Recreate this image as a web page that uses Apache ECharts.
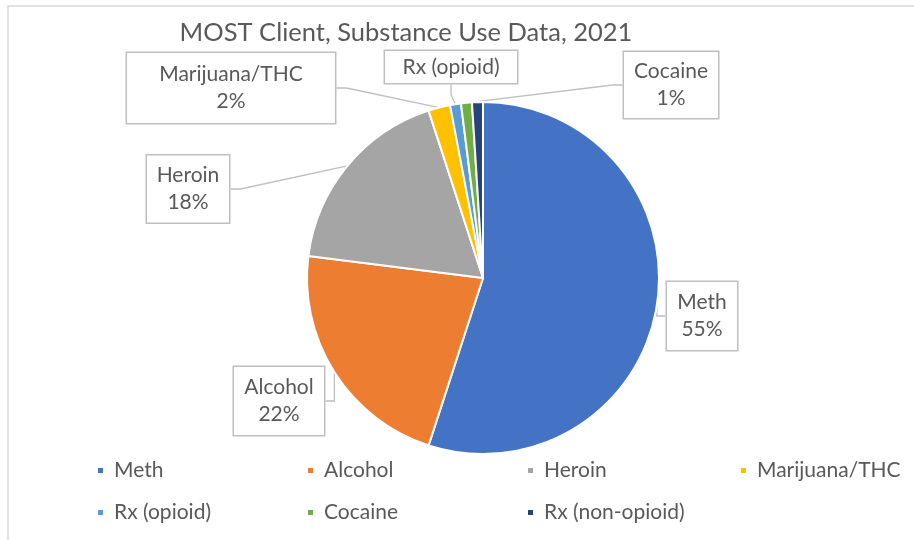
<!DOCTYPE html>
<html>
<head>
<meta charset="utf-8">
<script src="https://cdn.jsdelivr.net/npm/echarts@6/dist/echarts.min.js"></script>
<style>
  html, body { margin: 0; padding: 0; background: #fff; }
  #chart { width: 914px; height: 540px; }
</style>
</head>
<body>
<div id="chart"></div>
<script>
// Substance categories and their share of MOST clients (percent)
const categories = ['Meth', 'Alcohol', 'Heroin', 'Marijuana/THC', 'Rx (opioid)', 'Cocaine', 'Rx (non-opioid)'];
const shares = [55, 22, 18, 2, 1, 1, 1];
const colors = ['#4472C4', '#ED7D31', '#A5A5A5', '#FFC000', '#5B9BD5', '#70AD47', '#264478'];
const titleText = 'MOST Client, Substance Use Data, 2021';

// Callout box placement (centre x, centre y, box width, box height) per category
const callouts = {
  'Meth':          { cx: 702, cy: 316, w: 70,  h: 68 },
  'Alcohol':       { cx: 279, cy: 401, w: 90,  h: 68 },
  'Heroin':        { cx: 188, cy: 189, w: 82,  h: 67 },
  'Marijuana/THC': { cx: 231, cy: 88,  w: 208, h: 70 },
  'Rx (opioid)':   { cx: 451, cy: 67,  w: 132, h: 32 },
  'Cocaine':       { cx: 671, cy: 85,  w: 94,  h: 66 }
};

// Legend grid: four columns, two rows
const legendCols = [91, 301, 521, 734];
const legendRows = [455, 497];

const FONT = 'Lato, "Open Sans", sans-serif';
const TEXT = '#595959';

const pieData = categories.map((name, i) => {
  const c = callouts[name];
  const item = { name: name, value: shares[i], itemStyle: { color: colors[i] } };
  if (!c) {
    item.label = { show: false };
    item.labelLine = { show: false };
  } else {
    const lines = name === 'Rx (opioid)' ? 1 : 2;
    const padV = Math.max(0, (c.h - lines * 27) / 2);
    item.label = { width: c.w, padding: [padV, 0, padV, 0] };
  }
  return item;
});

const legends = categories.map((name, i) => ({
  data: [name],
  left: legendCols[i % 4],
  top: legendRows[Math.floor(i / 4)],
  icon: 'rect', itemWidth: 7, itemHeight: 7,
  textStyle: { fontFamily: FONT, fontSize: 21, color: TEXT, padding: [0, 0, 0, 5] }
}));

const chart = echarts.init(document.getElementById('chart'), null, { renderer: 'canvas' });
chart.setOption({
  backgroundColor: '#fff',
  animation: false,
  title: {
    text: titleText,
    left: 401,
    top: 15,
    textAlign: 'center',
    textStyle: { fontFamily: FONT, fontSize: 25.5, fontWeight: 'normal', color: TEXT }
  },
  graphic: [{
    type: 'rect',
    shape: { x: 8, y: 6, width: 940, height: 560 },
    style: { fill: 'none', stroke: '#d9d9d9', lineWidth: 1.5 },
    silent: true
  }],
  legend: legends,
  series: [{
    type: 'pie',
    center: [483, 278],
    radius: [0, 176],
    startAngle: 90,
    clockwise: true,
    avoidLabelOverlap: false,
    itemStyle: { borderColor: '#fff', borderWidth: 2 },
    label: {
      show: true,
      position: 'outside',
      fontFamily: FONT,
      fontSize: 21,
      lineHeight: 27,
      color: TEXT,
      align: 'center',
      backgroundColor: '#fff',
      borderColor: '#bfbfbf',
      borderWidth: 1.5,
      formatter: p => p.name === 'Rx (opioid)' ? p.name : p.name + '\n' + Math.round(p.percent) + '%'
    },
    labelLine: {
      show: true,
      length: 10,
      length2: 10,
      lineStyle: { color: '#bfbfbf', width: 1.3 }
    },
    labelLayout: function (params) {
      const name = categories[params.dataIndex];
      const c = callouts[name];
      if (!c) return {};
      return { x: c.cx, y: c.cy, align: 'center', verticalAlign: 'middle' };
    },
    data: pieData
  }]
});
</script>
</body>
</html>
